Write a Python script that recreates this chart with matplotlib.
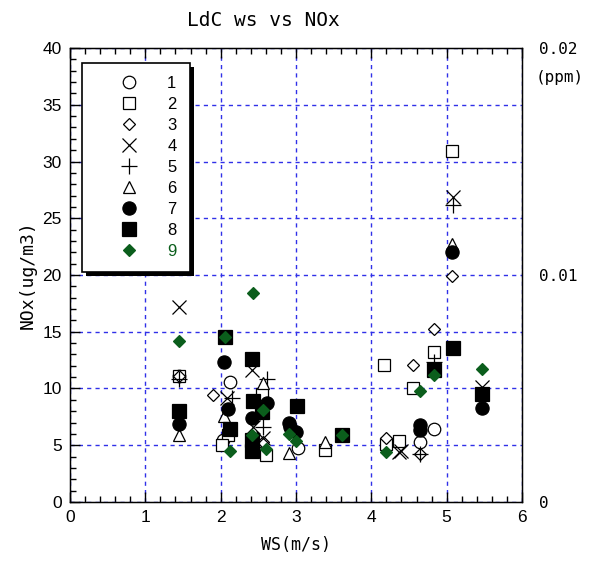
import matplotlib
matplotlib.use("Agg")
import matplotlib.pyplot as plt
from matplotlib.ticker import MultipleLocator
from matplotlib.patches import Rectangle

# Wind speed (m/s) and NOx (ug/m3) for each group
ws_1 = [1.45, 2.12, 2.03, 2.58, 3.03, 4.65, 4.83]
nox_1 = [11.1, 10.6, 5.5, 4.4, 4.8, 5.3, 6.4]

ws_2 = [1.45, 2.10, 2.02, 2.55, 2.60, 3.38, 4.17, 4.20, 4.37, 4.55, 4.83, 5.07]
nox_2 = [11.1, 5.9, 5.0, 9.5, 4.1, 4.6, 12.1, 5.1, 5.4, 10.0, 13.2, 30.9]

ws_3 = [1.45, 1.90, 2.56, 4.19, 4.55, 4.65, 4.83, 5.07]
nox_3 = [11.1, 9.4, 5.3, 5.6, 12.1, 4.2, 15.2, 19.9]

ws_4 = [1.45, 2.08, 2.42, 2.43, 2.56, 4.37, 4.40, 5.08, 5.47]
nox_4 = [17.2, 9.2, 11.6, 6.6, 5.6, 4.4, 4.5, 26.9, 10.1]

ws_5 = [1.45, 2.15, 2.61, 2.56, 4.65, 4.83, 5.08]
nox_5 = [10.8, 9.2, 10.8, 6.6, 4.2, 12.3, 26.2]

ws_6 = [1.45, 2.04, 2.56, 2.91, 3.38, 5.07]
nox_6 = [5.9, 7.6, 10.5, 4.3, 5.3, 22.7]

ws_7 = [1.45, 2.04, 2.10, 2.42, 2.61, 2.91, 2.92, 3.00, 4.65, 4.65, 5.07, 5.47]
nox_7 = [6.9, 12.3, 8.2, 7.4, 8.7, 7.0, 6.6, 6.2, 6.8, 6.3, 22.0, 8.3]

ws_8 = [1.45, 2.06, 2.12, 2.42, 2.43, 2.55, 2.42, 2.42, 3.01, 3.61, 4.83, 5.08, 5.47]
nox_8 = [8.0, 14.5, 6.4, 12.6, 8.9, 7.9, 5.5, 4.5, 8.5, 5.9, 11.6, 13.6, 9.5]

ws_9 = [1.45, 2.06, 2.12, 2.43, 2.42, 2.56, 2.60, 2.91, 3.00, 3.61, 4.19, 4.65, 4.83, 5.47]
nox_9 = [14.2, 14.5, 4.5, 18.4, 5.9, 8.1, 4.7, 6.0, 5.4, 5.9, 4.4, 9.8, 11.2, 11.7]

labels = ["1", "2", "3", "4", "5", "6", "7", "8", "9"]
ws_all = [ws_1, ws_2, ws_3, ws_4, ws_5, ws_6, ws_7, ws_8, ws_9]
nox_all = [nox_1, nox_2, nox_3, nox_4, nox_5, nox_6, nox_7, nox_8, nox_9]

GREEN = "#0b5e1c"
styles = [
    dict(marker="o", ms=9, mfc="white", mec="black", mew=0.9),
    dict(marker="s", ms=9, mfc="white", mec="black", mew=0.9),
    dict(marker="D", ms=6.5, mfc="white", mec="black", mew=0.9),
    dict(marker="x", ms=10, mec="black", mew=0.9),
    dict(marker="+", ms=11, mec="black", mew=0.9),
    dict(marker="^", ms=9, mfc="white", mec="black", mew=0.9),
    dict(marker="o", ms=9.5, mfc="black", mec="black", mew=0.9),
    dict(marker="s", ms=10, mfc="black", mec="black", mew=0.9),
    dict(marker="D", ms=6.5, mfc=GREEN, mec=GREEN, mew=0.9),
]

mono = "DejaVu Sans Mono"
sans = "Liberation Sans"

fig = plt.figure(figsize=(5.91, 5.61), dpi=100)
ax = fig.add_axes([0.1184, 0.1052, 0.7648, 0.8092])

handles = []
for x, y, lab, st in zip(ws_all, nox_all, labels, styles):
    h, = ax.plot(x, y, linestyle="none", label=lab, zorder=3, **st)
    handles.append(h)

ax.set_xlim(0, 6)
ax.set_ylim(0, 40)
ax.xaxis.set_major_locator(MultipleLocator(1))
ax.xaxis.set_minor_locator(MultipleLocator(0.2))
ax.yaxis.set_major_locator(MultipleLocator(5))
ax.yaxis.set_minor_locator(MultipleLocator(1))
ax.tick_params(which="both", direction="in", top=True, right=True, width=1)
ax.tick_params(which="major", length=7, labelsize=12.5, pad=6)
ax.tick_params(which="minor", length=4.5)
for t in ax.get_xticklabels() + ax.get_yticklabels():
    t.set_fontfamily(sans)
ax.grid(True, which="major", color="#3030e8", linestyle=(0, (3, 3)), linewidth=1.0)
for s in ax.spines.values():
    s.set_linewidth(1.0)

ax.set_xlabel("WS(m/s)", fontfamily=mono, fontsize=12, labelpad=8)
ax.set_ylabel("NOx(ug/m3)", fontfamily=mono, fontsize=13, labelpad=4)

# Secondary scale in ppm on the right
ax2 = ax.twinx()
ax2.set_ylim(0, 0.02)
ax2.set_yticks([0, 0.01, 0.02])
ax2.set_yticklabels(["0", "0.01", "0.02"], fontfamily=mono, fontsize=11.5)
ax2.tick_params(axis="y", length=0, pad=12)
ax2.text(1.03, 0.935, "(ppm)", transform=ax.transAxes, fontfamily=mono,
         fontsize=11.5, va="center", ha="left")

fig.text(0.445, 0.964, "LdC ws vs NOx", fontfamily=mono, fontsize=14,
         ha="center", va="center")

leg = ax2.legend(handles=handles, loc="upper left", bbox_to_anchor=(0.027, 0.968),
                 bbox_transform=ax.transAxes,
                 frameon=True, fancybox=False, shadow=False, framealpha=1.0,
                 facecolor="white",
                 prop={"family": sans, "size": 12}, handlelength=4.0,
                 handletextpad=0.3, labelspacing=0.36, borderpad=0.8,
                 borderaxespad=0, markerfirst=True)
leg.get_frame().set_edgecolor("black")
leg.get_frame().set_linewidth(1.2)
leg.set_zorder(5)
for txt in leg.get_texts():
    if txt.get_text() == "9":
        txt.set_color(GREEN)

# Solid drop shadow behind the legend box
fig.canvas.draw()
bb = leg.get_window_extent()
shadow = Rectangle((bb.x0 + 4, bb.y0 - 4), bb.width, bb.height, transform=None,
                   facecolor="black", edgecolor="none", zorder=4.5)
ax2.add_artist(shadow)

fig.savefig("out.png", dpi=100)
